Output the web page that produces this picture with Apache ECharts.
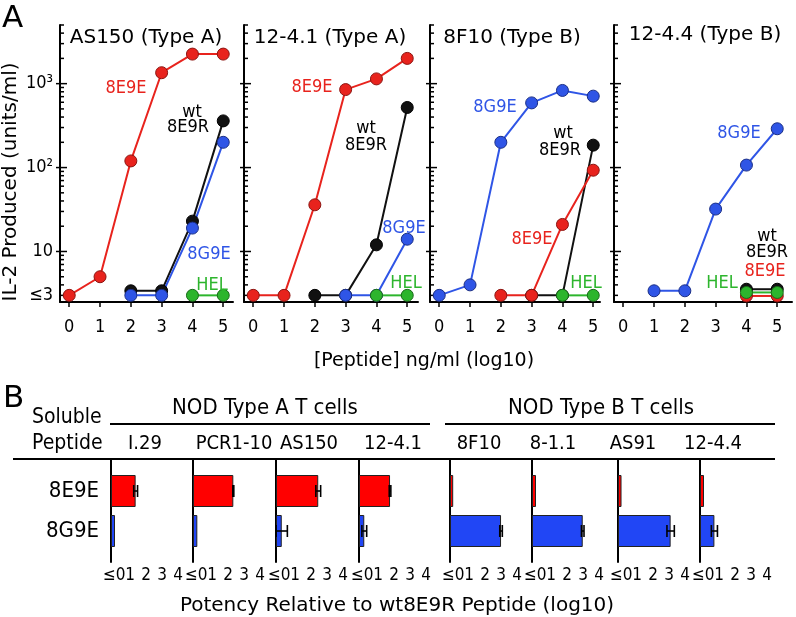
<!DOCTYPE html>
<html>
<head>
<meta charset="utf-8">
<title>IL-2 response and peptide potency</title>
<script src="https://cdn.jsdelivr.net/npm/echarts@6/dist/echarts.min.js"></script>
<style>
  html, body { margin: 0; padding: 0; background: #fff; }
  #main { width: 796px; height: 617px; }
</style>
</head>
<body>
<div id="main"></div>
<script>
var FONT = "'DejaVu Sans Condensed', 'DejaVu Sans', sans-serif";
var FONT_WIDE = "'DejaVu Sans', sans-serif";

// ---------- panel A: IL-2 (units/ml) vs log10 peptide dose, 3 = detection floor (<=3)
var doses = [0, 1, 2, 3, 4, 5];
var clonesA = ['AS150 (Type A)', '12-4.1 (Type A)', '8F10 (Type B)', '12-4.4 (Type B)'];
var wt8E9R = [
  [null, null, 3.4, 3.4, 23, 360],
  [null, null, 3, 3, 12, 520],
  [null, null, null, 3, 3, 185],
  [null, null, null, null, 3.55, 3.55]
];
var pep8E9E = [
  [3, 5, 120, 1350, 2250, 2250],
  [3, 3, 36, 850, 1140, 2000],
  [null, null, 3, 3, 21, 93],
  [null, null, null, null, 2.95, 2.95]
];
var pep8G9E = [
  [null, null, 3, 3, 19, 200],
  [null, null, null, 3, 3, 14],
  [3, 4, 200, 590, 830, 710],
  [null, 3.4, 3.4, 32, 107, 290]
];
var pepHEL = [
  [null, null, null, null, 3, 3],
  [null, null, null, null, 3, 3],
  [null, null, null, null, 3, 3],
  [null, null, null, null, 3.25, 3.25]
];
var logTicks = [3, 4, 5, 6, 7, 8, 9, 10, 20, 30, 40, 50, 60, 70, 80, 90,
  100, 200, 300, 400, 500, 600, 700, 800, 900, 1000, 2000, 3000, 4000, 5000];
var yLabelsA = { 10: '10', 100: '10\u00b2', 1000: '10\u00b3' };

// ---------- panel B: potency relative to wt8E9R (log10)
var cellsB = ['I.29', 'PCR1-10', 'AS150', '12-4.1', '8F10', '8-1.1', 'AS91', '12-4.4'];
var pot8E9E = [1.34, 2.32, 2.44, 1.74, 0.0, 0.05, 0.02, 0.05];
var err8E9E = [0.12, 0.03, 0.15, 0.05, 0, 0, 0, 0];
var pot8G9E = [0.05, 0.07, 0.16, 0.13, 2.99, 2.97, 3.09, 0.7];
var err8G9E = [0, 0, 0.35, 0.15, 0.08, 0.08, 0.23, 0.19];
var ticksB = [0, 1, 2, 3, 4];
var tickLabelsB = ['\u22640', '1', '2', '3', '4'];

// layout
var gridA = [[60, 233], [244, 418], [430, 600], [614, 792]];
var gridB = [[111, 193], [193, 276], [276, 359], [359, 450], [450, 532], [532, 618], [618, 700], [700, 775]];
var axisLineStyle = { color: '#000', width: 2 };

var lineSets = [
  { rows: wt8E9R, color: '#111111', border: '#000000' },
  { rows: pep8E9E, color: '#e8231d', border: '#8c1511' },
  { rows: pep8G9E, color: '#2f55e6', border: '#1b2f86' },
  { rows: pepHEL, color: '#2db52d', border: '#1a6a1a' }
];

function logTickItem(withFloor) {
  return function (params, api) {
    var v = api.value(1);
    var p = api.coord([api.value(0), v]);
    var major = yLabelsA[v] !== undefined;
    var kids = [{
      type: 'line',
      shape: { x1: p[0] - (major ? 4 : 0), y1: p[1], x2: p[0] + (major ? 7 : 4), y2: p[1] },
      style: { stroke: '#000', lineWidth: 1.5 }
    }];
    if (withFloor && v === 3) {
      kids.push({
        type: 'text', x: p[0] - 7, y: p[1],
        style: { text: '\u22643', fill: '#000', fontSize: 18, fontFamily: FONT, align: 'right', verticalAlign: 'middle' }
      });
    }
    return { type: 'group', children: kids };
  };
}

function errorBarItem(offset) {
  return function (params, api) {
    var lo = api.coord([api.value(0) - api.value(1), 0]);
    var hi = api.coord([api.value(0) + api.value(1), 0]);
    var y = lo[1] + offset, h = 6, st = { stroke: '#000', lineWidth: 1.6 };
    return { type: 'group', children: [
      { type: 'line', shape: { x1: lo[0], y1: y, x2: hi[0], y2: y }, style: st },
      { type: 'line', shape: { x1: lo[0], y1: y - h, x2: lo[0], y2: y + h }, style: st },
      { type: 'line', shape: { x1: hi[0], y1: y - h, x2: hi[0], y2: y + h }, style: st }
    ] };
  };
}

var grids = [], xAxes = [], yAxes = [], series = [];

gridA.forEach(function (g, i) {
  var w = g[1] - g[0];
  grids.push({ left: g[0], top: 25, width: w, height: 277 });
  xAxes.push({
    type: 'value', gridIndex: i, min: -0.3, max: -0.3 + w / 30.8,
    axisLine: { onZero: false, lineStyle: axisLineStyle },
    axisTick: { customValues: doses, length: 5, lineStyle: { color: '#000', width: 1.5 } },
    axisLabel: { customValues: doses, color: '#000', fontSize: 18, fontFamily: FONT, margin: 16 },
    splitLine: { show: false }
  });
  yAxes.push({
    type: 'log', logBase: 10, gridIndex: i, min: 2.5, max: 5000,
    axisLine: { show: true, onZero: false, lineStyle: axisLineStyle },
    axisTick: { show: false },
    axisLabel: {
      show: i === 0, color: '#000', fontSize: 18, fontFamily: FONT, margin: 7,
      formatter: function (v) { return yLabelsA[Math.round(v)] || ''; }
    },
    splitLine: { show: false }
  });
  series.push({
    type: 'custom', xAxisIndex: i, yAxisIndex: i, clip: false, silent: true, z: 1,
    data: logTicks.map(function (v) { return [-0.3, v]; }),
    renderItem: logTickItem(i === 0)
  });
  lineSets.forEach(function (s) {
    var pts = [];
    doses.forEach(function (d, k) {
      if (s.rows[i][k] != null) pts.push([d, s.rows[i][k]]);
    });
    series.push({
      type: 'line', xAxisIndex: i, yAxisIndex: i, data: pts,
      symbol: 'circle', symbolSize: 12, z: 3,
      lineStyle: { color: s.color, width: 2 },
      itemStyle: { color: s.color, borderColor: s.border, borderWidth: 1 }
    });
  });
});

gridB.forEach(function (g, j) {
  var gi = gridA.length + j, w = g[1] - g[0];
  grids.push({ left: g[0], top: 460, width: w, height: 102 });
  xAxes.push({
    type: 'value', gridIndex: gi, min: -0.2, max: -0.2 + w / 16, startValue: -0.2,
    axisLine: { onZero: false, lineStyle: axisLineStyle },
    axisTick: { inside: true, length: 6, customValues: ticksB, lineStyle: { color: '#000', width: 1.5 } },
    axisLabel: {
      customValues: ticksB, color: '#000', fontSize: 17, fontFamily: FONT, margin: 5,
      formatter: function (v) { return tickLabelsB[Math.round(v)]; }
    },
    splitLine: { show: false }
  });
  yAxes.push({
    type: 'category', gridIndex: gi, data: ['potency'],
    axisLine: { show: true, onZero: false, lineStyle: axisLineStyle },
    axisTick: { show: false }, axisLabel: { show: false }
  });
  series.push({
    type: 'bar', xAxisIndex: gi, yAxisIndex: gi, data: [pot8E9E[j]],
    barWidth: 32, barGap: '25%',
    itemStyle: { color: '#ff0000', borderColor: '#222', borderWidth: 1 }
  });
  series.push({
    type: 'bar', xAxisIndex: gi, yAxisIndex: gi, data: [pot8G9E[j]],
    barWidth: 32, barGap: '25%',
    itemStyle: { color: '#2146f5', borderColor: '#222', borderWidth: 1 }
  });
  if (err8E9E[j] > 0) series.push({
    type: 'custom', xAxisIndex: gi, yAxisIndex: gi, z: 5, silent: true,
    encode: { x: 0, y: 2 }, data: [[pot8E9E[j], err8E9E[j], 0]],
    renderItem: errorBarItem(-20)
  });
  if (err8G9E[j] > 0) series.push({
    type: 'custom', xAxisIndex: gi, yAxisIndex: gi, z: 5, silent: true,
    encode: { x: 0, y: 2 }, data: [[pot8G9E[j], err8G9E[j], 0]],
    renderItem: errorBarItem(20)
  });
});

// text and rules around the plots
var graphics = [];
function addText(t, x, y, size, color, align, rot, family) {
  graphics.push({
    type: 'text', x: x, y: y, rotation: rot || 0, z: 10,
    style: { text: t, fill: color || '#000', fontSize: size, fontFamily: family || FONT,
      align: align || 'center', verticalAlign: 'middle' }
  });
}
function addRule(x1, y1, x2, y2) {
  graphics.push({ type: 'line', z: 10, shape: { x1: x1, y1: y1, x2: x2, y2: y2 },
    style: { stroke: '#000', lineWidth: 2 } });
}

var RED = '#e8231d', BLUE = '#2f55e6', GREEN = '#2db52d';
addText('A', 2, 19, 31, '#000', 'left', 0, FONT_WIDE);
addText('B', 3, 399, 31, '#000', 'left', 0, FONT_WIDE);
[146, 330, 512, 705].forEach(function (x, i) { addText(clonesA[i], x, i === 3 ? 35 : 38, 20, '#000', 'center', 0, FONT_WIDE); });
addText('IL-2 Produced (units/ml)', 11, 182, 20, '#000', 'center', Math.PI / 2, FONT_WIDE);
addText('[Peptide] ng/ml (log10)', 424, 361, 19, '#000', 'center', 0, FONT_WIDE);

var seriesLabels = [
  ['8E9E', 126, 88, RED], ['wt', 192, 112], ['8E9R', 188, 127], ['8G9E', 209, 254, BLUE], ['HEL', 212, 285, GREEN],
  ['8E9E', 312, 87, RED], ['wt', 366, 128], ['8E9R', 366, 145], ['8G9E', 404, 228, BLUE], ['HEL', 406, 283, GREEN],
  ['8G9E', 495, 107, BLUE], ['wt', 563, 133], ['8E9R', 560, 150], ['8E9E', 532, 239, RED], ['HEL', 586, 283, GREEN],
  ['8G9E', 739, 133, BLUE], ['wt', 767, 236], ['8E9R', 767, 252], ['8E9E', 765, 271, RED], ['HEL', 722, 283, GREEN]
];
seriesLabels.forEach(function (l) { addText(l[0], l[1], l[2], 18, l[3] || '#000'); });

addText('Soluble', 32, 418, 21, '#000', 'left');
addText('Peptide', 32, 444, 21, '#000', 'left');
addText('NOD Type A T cells', 265, 408, 22);
addText('NOD Type B T cells', 601, 408, 22);
addRule(110, 424, 430, 424);
addRule(445, 424, 775, 424);
addRule(13, 459, 775, 459);
[145, 234, 309, 393, 479, 553, 633, 713].forEach(function (x, j) { addText(cellsB[j], x, 444, 20); });
addText('8E9E', 99, 491, 22, '#000', 'right');
addText('8G9E', 99, 531, 22, '#000', 'right');
addText('Potency Relative to wt8E9R Peptide (log10)', 397, 606, 20, '#000', 'center', 0, FONT_WIDE);

var chart = echarts.init(document.getElementById('main'), null, { renderer: 'canvas' });
chart.setOption({
  animation: false,
  backgroundColor: '#fff',
  grid: grids,
  xAxis: xAxes,
  yAxis: yAxes,
  series: series,
  graphic: { elements: graphics }
});
</script>
</body>
</html>
